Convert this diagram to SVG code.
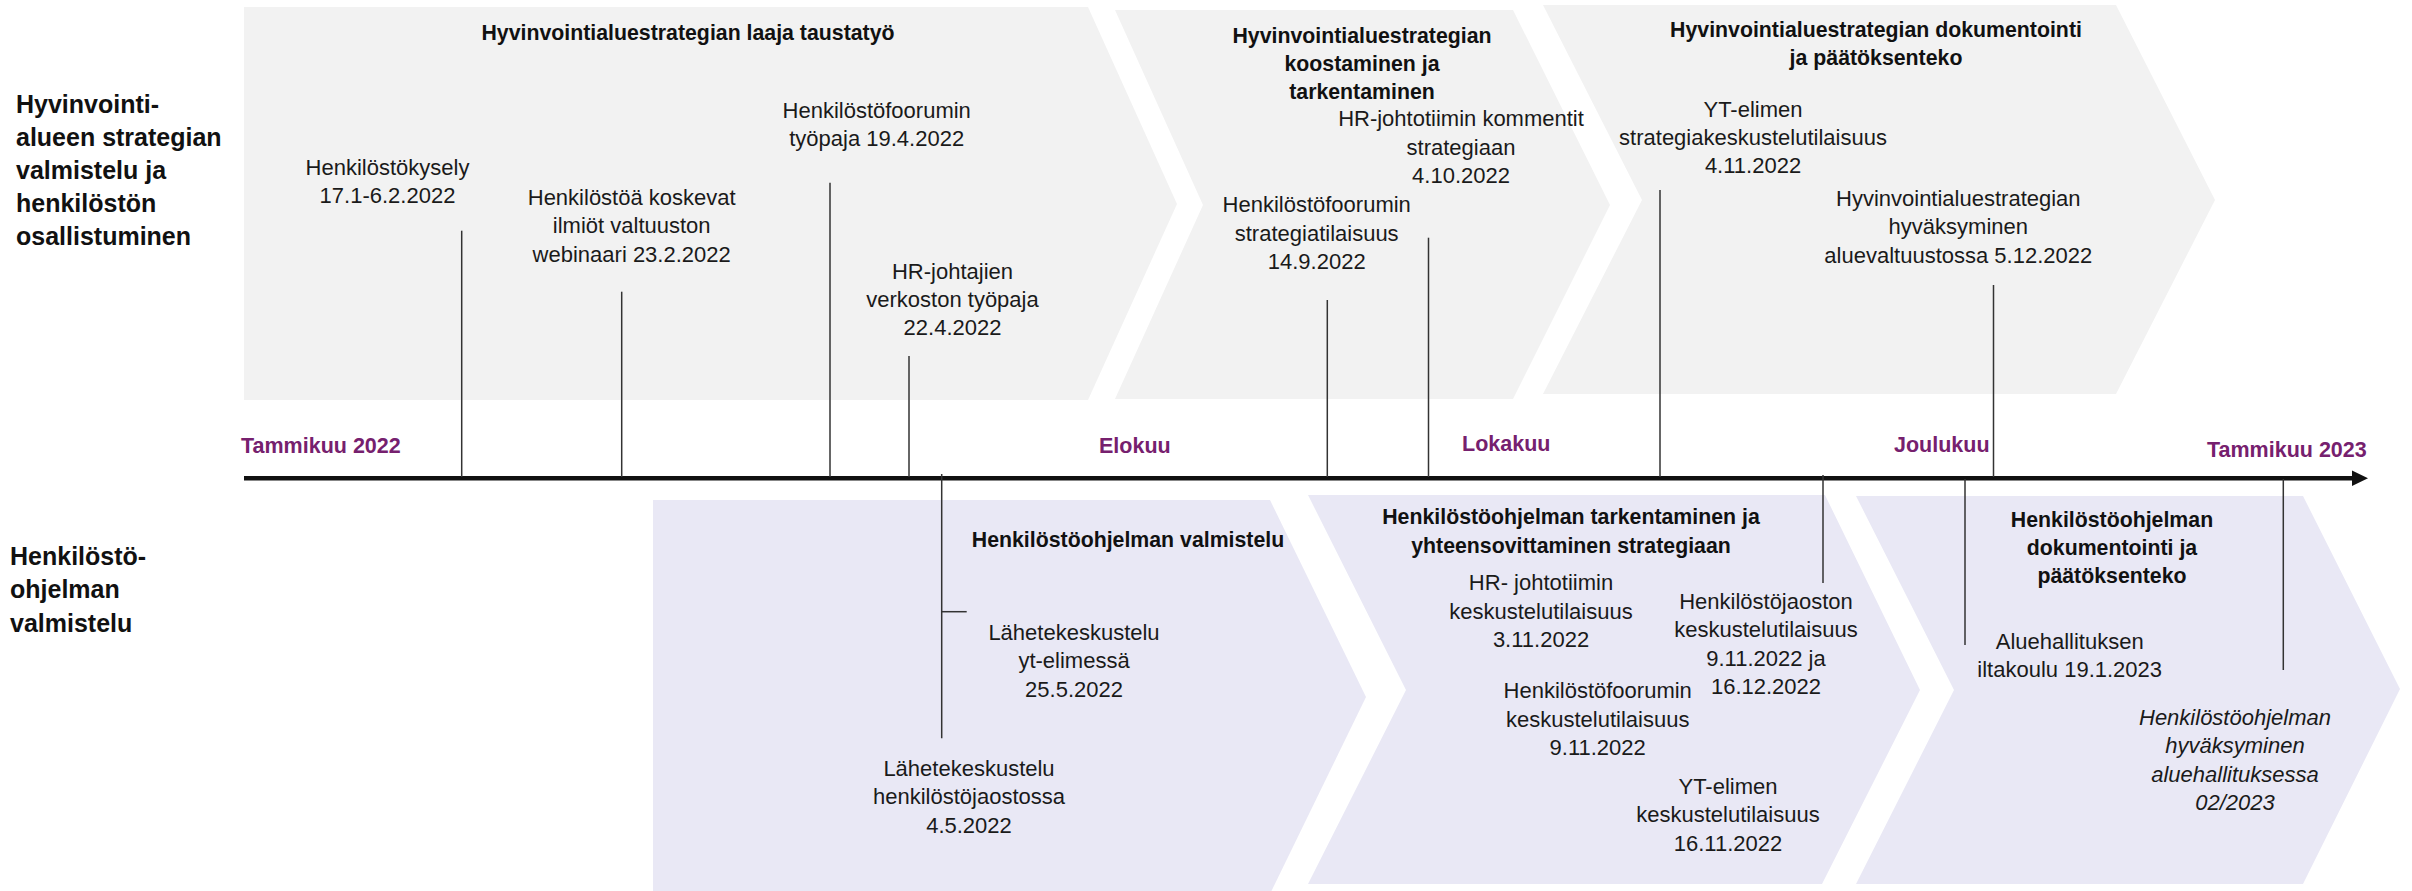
<svg xmlns="http://www.w3.org/2000/svg" width="2412" height="891" viewBox="0 0 2412 891">
<style>
text{font-family:"Liberation Sans",Arial,sans-serif;fill:#1a1a1a}
.t{font-size:22px;text-anchor:middle}
.i{font-size:22px;text-anchor:middle;font-style:italic}
.b{font-size:21.3px;font-weight:bold;text-anchor:middle;fill:#111}
.m{font-size:21.5px;font-weight:bold;fill:#76206e}
.s{font-size:25px;font-weight:bold;fill:#111}
.top{fill:#f2f2f2}
.bot{fill:#e9e8f5}
.ln{stroke:#333;stroke-width:1.5;fill:none}
.axis{stroke:#111;stroke-width:4.5;fill:none}
</style>
<defs>
<marker id="arr" markerUnits="userSpaceOnUse" markerWidth="18" markerHeight="18" viewBox="0 0 18 18" refX="2" refY="9" orient="auto">
<polygon points="0,1.3 16,9 0,16.7" fill="#111"/>
</marker>
</defs>
<rect width="2412" height="891" fill="#fff"/>

<g id="phase-top-1">
<polygon class="top" points="244,7 1088,7 1177,204 1088,400 244,400"/>
<text class="b" x="688" y="40">Hyvinvointialuestrategian laaja taustatyö</text>
</g>
<g id="phase-top-2">
<polygon class="top" points="1115,10 1513,10 1610,205 1513,399 1115,399 1203,205"/>
<text class="b" x="1362" y="42.7">Hyvinvointialuestrategian</text>
<text class="b" x="1362" y="71">koostaminen ja</text>
<text class="b" x="1362" y="99.3">tarkentaminen</text>
</g>
<g id="phase-top-3">
<polygon class="top" points="1543,5 2116,5 2215,200 2116,394 1543,394 1642,200"/>
<text class="b" x="1876" y="36.7">Hyvinvointialuestrategian dokumentointi</text>
<text class="b" x="1876" y="65">ja päätöksenteko</text>
</g>

<g id="phase-bot-1">
<polygon class="bot" points="653,500 1270,500 1366,697 1270,894 653,894"/>
<text class="b" x="1128" y="546.7">Henkilöstöohjelman valmistelu</text>
</g>
<g id="phase-bot-2">
<polygon class="bot" points="1308,495 1825,495 1920,690 1822,884 1308,884 1406,690"/>
<text class="b" x="1571" y="524">Henkilöstöohjelman tarkentaminen ja</text>
<text class="b" x="1571" y="552.7">yhteensovittaminen strategiaan</text>
</g>
<g id="phase-bot-3">
<polygon class="bot" points="1856,496 2303,496 2400,689 2303,884 1856,884 1954,690"/>
<text class="b" x="2112" y="526.7">Henkilöstöohjelman</text>
<text class="b" x="2112" y="555">dokumentointi ja</text>
<text class="b" x="2112" y="583.3">päätöksenteko</text>
</g>

<g id="lane-top">
<text class="s" x="16" y="112.5">Hyvinvointi-</text>
<text class="s" x="16" y="145.6">alueen strategian</text>
<text class="s" x="16" y="178.7">valmistelu ja</text>
<text class="s" x="16" y="211.8">henkilöstön</text>
<text class="s" x="16" y="245">osallistuminen</text>
</g>
<g id="lane-bottom">
<text class="s" x="10" y="565">Henkilöstö-</text>
<text class="s" x="10" y="598.3">ohjelman</text>
<text class="s" x="10" y="631.6">valmistelu</text>
</g>

<g id="connectors">
<line class="axis" x1="244" y1="478.3" x2="2354" y2="478.3" marker-end="url(#arr)"/>
<line class="ln" x1="461.7" y1="230.7" x2="461.7" y2="477"/>
<line class="ln" x1="621.7" y1="291.7" x2="621.7" y2="477"/>
<line class="ln" x1="830" y1="182.7" x2="830" y2="477"/>
<line class="ln" x1="909" y1="356" x2="909" y2="477"/>
<line class="ln" x1="1327.3" y1="300" x2="1327.3" y2="477"/>
<line class="ln" x1="1428.5" y1="237.7" x2="1428.5" y2="477"/>
<line class="ln" x1="1660" y1="190" x2="1660" y2="477"/>
<line class="ln" x1="1993.5" y1="285" x2="1993.5" y2="477"/>
<line class="ln" x1="941.7" y1="474" x2="941.7" y2="738.3"/>
<line class="ln" x1="941.7" y1="611.7" x2="966.7" y2="611.7"/>
<line class="ln" x1="1823" y1="475" x2="1823" y2="583"/>
<line class="ln" x1="1965" y1="479" x2="1965" y2="645"/>
<line class="ln" x1="2283.3" y1="479" x2="2283.3" y2="670"/>
</g>

<g id="months">
<text class="m" x="241" y="452.5">Tammikuu 2022</text>
<text class="m" x="1099" y="453">Elokuu</text>
<text class="m" x="1462" y="450.5">Lokakuu</text>
<text class="m" x="1894" y="451.5">Joulukuu</text>
<text class="m" x="2207" y="457">Tammikuu 2023</text>
</g>

<g id="ev-henkilostokysely">
<text class="t" x="387.5" y="175">Henkilöstökysely</text>
<text class="t" x="387.5" y="203">17.1-6.2.2022</text>
</g>
<g id="ev-webinaari">
<text class="t" x="631.7" y="205">Henkilöstöä koskevat</text>
<text class="t" x="631.7" y="233.3">ilmiöt valtuuston</text>
<text class="t" x="631.7" y="261.7">webinaari 23.2.2022</text>
</g>
<g id="ev-foorumi-tyopaja">
<text class="t" x="876.7" y="118.3">Henkilöstöfoorumin</text>
<text class="t" x="876.7" y="146.3">työpaja 19.4.2022</text>
</g>
<g id="ev-hr-johtajat">
<text class="t" x="952.5" y="279.3">HR-johtajien</text>
<text class="t" x="952.5" y="307">verkoston työpaja</text>
<text class="t" x="952.5" y="335">22.4.2022</text>
</g>
<g id="ev-hr-kommentit">
<text class="t" x="1461" y="126">HR-johtotiimin kommentit</text>
<text class="t" x="1461" y="154.5">strategiaan</text>
<text class="t" x="1461" y="183">4.10.2022</text>
</g>
<g id="ev-foorumi-strategia">
<text class="t" x="1316.7" y="212.3">Henkilöstöfoorumin</text>
<text class="t" x="1316.7" y="240.7">strategiatilaisuus</text>
<text class="t" x="1316.7" y="268.7">14.9.2022</text>
</g>
<g id="ev-yt-strategia">
<text class="t" x="1753" y="116.7">YT-elimen</text>
<text class="t" x="1753" y="145">strategiakeskustelutilaisuus</text>
<text class="t" x="1753" y="173">4.11.2022</text>
</g>
<g id="ev-aluevaltuusto">
<text class="t" x="1958.3" y="206">Hyvinvointialuestrategian</text>
<text class="t" x="1958.3" y="234.3">hyväksyminen</text>
<text class="t" x="1958.3" y="262.7">aluevaltuustossa 5.12.2022</text>
</g>

<g id="ev-lahete-yt">
<text class="t" x="1074" y="640">Lähetekeskustelu</text>
<text class="t" x="1074" y="668.3">yt-elimessä</text>
<text class="t" x="1074" y="696.7">25.5.2022</text>
</g>
<g id="ev-lahete-jaosto">
<text class="t" x="969" y="776">Lähetekeskustelu</text>
<text class="t" x="969" y="804.3">henkilöstöjaostossa</text>
<text class="t" x="969" y="832.5">4.5.2022</text>
</g>
<g id="ev-hr-johtotiimi">
<text class="t" x="1541" y="590">HR- johtotiimin</text>
<text class="t" x="1541" y="619">keskustelutilaisuus</text>
<text class="t" x="1541" y="647.3">3.11.2022</text>
</g>
<g id="ev-jaosto">
<text class="t" x="1766" y="609">Henkilöstöjaoston</text>
<text class="t" x="1766" y="637.3">keskustelutilaisuus</text>
<text class="t" x="1766" y="665.7">9.11.2022 ja</text>
<text class="t" x="1766" y="694">16.12.2022</text>
</g>
<g id="ev-foorumi-keskustelu">
<text class="t" x="1597.7" y="698.3">Henkilöstöfoorumin</text>
<text class="t" x="1597.7" y="726.7">keskustelutilaisuus</text>
<text class="t" x="1597.7" y="755">9.11.2022</text>
</g>
<g id="ev-yt-keskustelu">
<text class="t" x="1728" y="794">YT-elimen</text>
<text class="t" x="1728" y="822.3">keskustelutilaisuus</text>
<text class="t" x="1728" y="851">16.11.2022</text>
</g>
<g id="ev-iltakoulu">
<text class="t" x="2069.7" y="649.3">Aluehallituksen</text>
<text class="t" x="2069.7" y="677.3">iltakoulu 19.1.2023</text>
</g>
<g id="ev-hyvaksyminen">
<text class="i" x="2235" y="725">Henkilöstöohjelman</text>
<text class="i" x="2235" y="753.3">hyväksyminen</text>
<text class="i" x="2235" y="781.7">aluehallituksessa</text>
<text class="i" x="2235" y="810">02/2023</text>
</g>
</svg>
